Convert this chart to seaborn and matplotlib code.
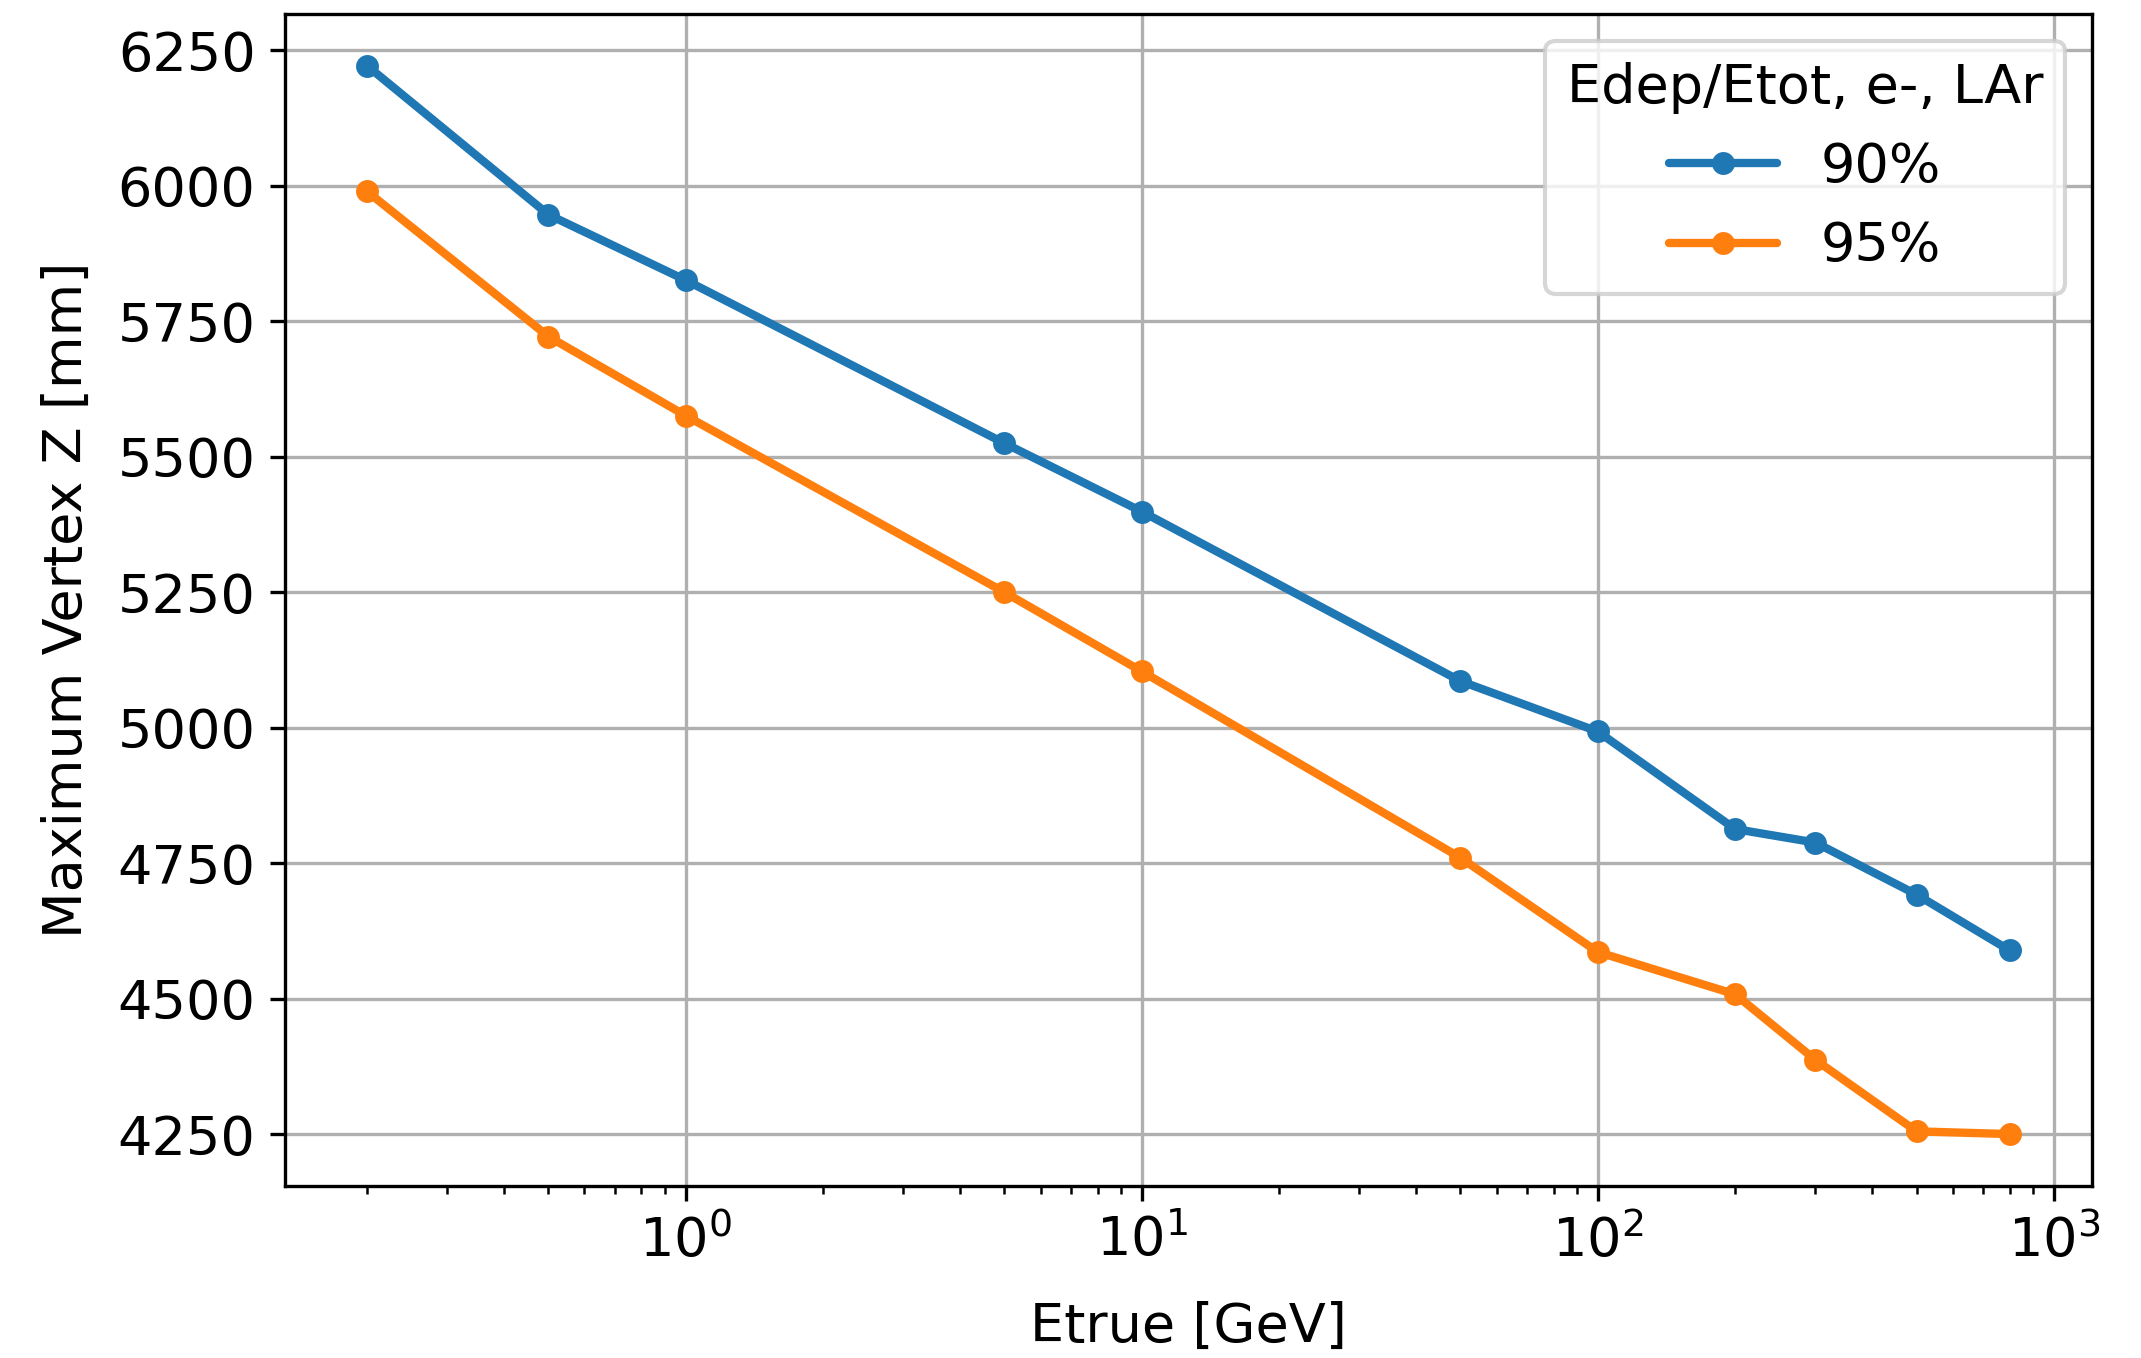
import numpy as np
import pandas as pd
import matplotlib
matplotlib.use("Agg")
import matplotlib.pyplot as plt
import seaborn as sns

# --- data ---
etrue = [0.2, 0.5, 1, 5, 10, 50, 100, 200, 300, 500, 800]
zmax_90 = [6222, 5947, 5826, 5525, 5399, 5086, 4993, 4813, 4788, 4692, 4589]
zmax_95 = [5990, 5722, 5576, 5250, 5104, 4760, 4586, 4508, 4387, 4255, 4250]
labels = ["90%", "95%"]

df = pd.concat([
    pd.DataFrame({"Etrue": etrue, "Zmax": zmax_90, "frac": labels[0]}),
    pd.DataFrame({"Etrue": etrue, "Zmax": zmax_95, "frac": labels[1]}),
])

sns.set_style("white")
plt.rcParams["font.family"] = ["DejaVu Sans"]
plt.rcParams["text.color"] = "black"
plt.rcParams["axes.labelcolor"] = "black"
plt.rcParams["xtick.color"] = "black"
plt.rcParams["ytick.color"] = "black"

fs = 13

fig, ax = plt.subplots(figsize=(2141 / 300, 1358 / 300), dpi=300)
fig.subplots_adjust(left=0.133, right=0.977, top=0.99, bottom=0.127)

sns.lineplot(data=df, x="Etrue", y="Zmax", hue="frac", palette=["#1f77b4", "#ff7f0e"],
             marker="o", markersize=5.5, markeredgewidth=0, linewidth=2, ax=ax)

ax.set_xscale("log")
ax.grid(True, color="#b0b0b0", linewidth=0.8)
ax.set_yticks([4250, 4500, 4750, 5000, 5250, 5500, 5750, 6000, 6250])
ax.set_ylim(4155, 6318)
ax.tick_params(axis="both", which="both", direction="out", labelsize=fs)
ax.tick_params(which="major", length=3.5, width=0.8)
ax.tick_params(which="minor", length=2, width=0.6)
ax.tick_params(axis="x", which="both", bottom=True)
ax.tick_params(axis="y", which="both", left=True)
ax.set_xlabel("Etrue [GeV]", fontsize=fs, labelpad=8)
ax.set_ylabel("Maximum Vertex Z [mm]", fontsize=fs, labelpad=6)
for s in ax.spines.values():
    s.set_color("black")
    s.set_linewidth(0.8)

leg = ax.legend(title="Edep/Etot, e-, LAr", fontsize=fs, title_fontsize=fs,
                loc="upper right", frameon=True)

plt.savefig("out.png", dpi=300)
